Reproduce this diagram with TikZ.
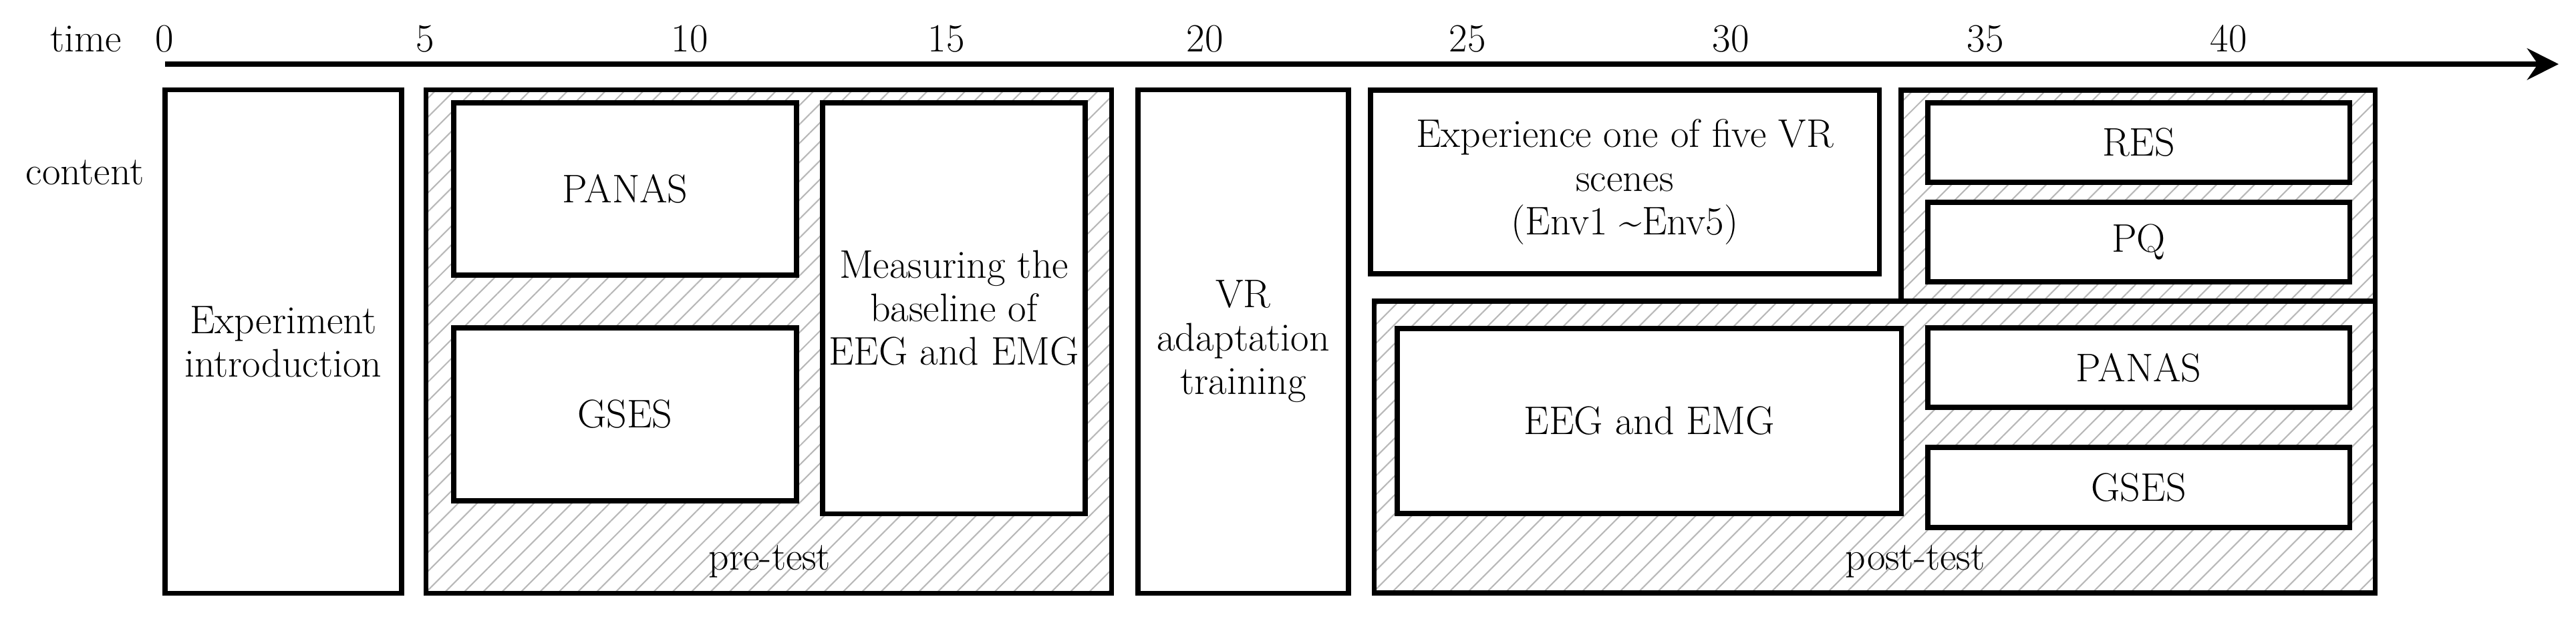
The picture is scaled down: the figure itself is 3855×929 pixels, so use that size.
\documentclass[tikz,border=0pt]{standalone}
\usepackage{fontspec}
\usepackage{tikz}
\usetikzlibrary{arrows.meta, patterns.meta}
\tikzset{
  stage/.style={draw=black,line width=2.1pt,fill=white,align=center,inner sep=0pt,font=\fontsize{17}{18.5}\selectfont},
  phase/.style={stage,pattern={Lines[angle=45,distance=5.7pt,line width=0.6pt]},pattern color=black!28},
  phaselabel/.style={anchor=base,inner sep=0pt,font=\fontsize{17}{18.5}\selectfont},
  ticklabel/.style={anchor=base,inner sep=0pt,font=\fontsize{17}{18.5}\selectfont},
  timeaxis/.style={line width=2.3pt,-{Stealth[length=4.7mm,width=4.7mm,inset=1.6mm]}},
}

\begin{document}
\begin{tikzpicture}[x=0.01cm,y=-0.01cm]
	\useasboundingbox (0,0) rectangle (3855,929);
	% time axis
	\node[ticklabel] (time) at (129,77) {time};
	\node[ticklabel] (content) at (127,276) {content};
	\foreach \t/\x in {0/246,5/636,10/1032,15/1416,20/1803,25/2196,30/2590,35/2971,40/3335}
		\node[ticklabel] (tick\t) at (\x,77) {\t};
	\coordinate (axisstart) at (247,96);
	\coordinate (axisend) at (3829,96);
	\draw[timeaxis] (axisstart) -- (axisend);
	% stages
	\node[stage,minimum width=3.54cm,minimum height=7.53cm] (intro) at (424,511.5) {Experiment\\introduction};
	\node[phase,minimum width=10.25cm,minimum height=7.53cm] (pre) at (1150.5,511.5) {};
	\node[stage,minimum width=5.13cm,minimum height=2.58cm] (prepanas) at (935.5,283) {PANAS};
	\node[stage,minimum width=5.13cm,minimum height=2.59cm] (pregses) at (935.5,620.5) {GSES};
	\node[stage,minimum width=3.93cm,minimum height=6.15cm] (baseline) at (1427.5,461.5) {Measuring the\\baseline of\\EEG and EMG};
	\node[phaselabel] (prelabel) at (1152,853) {pre-test};
	\node[stage,minimum width=3.15cm,minimum height=7.53cm] (vr) at (1860.5,511.5) {VR\\adaptation\\training};
	\node[stage,minimum width=7.61cm,minimum height=2.75cm] (scene) at (2431.5,272.5) {Experience one of five VR\\scenes\\(Env1 \textasciitilde Env5)};
	% post-test
	\node[phase,minimum width=14.97cm,minimum height=4.37cm] (post) at (2805.5,669.5) {};
	\node[phase,minimum width=7.09cm,minimum height=3.16cm] (quest) at (3199.5,293) {};
	\node[stage,minimum width=7.54cm,minimum height=2.77cm] (signal) at (2468,630.5) {EEG and EMG};
	\node[stage,minimum width=6.31cm,minimum height=1.19cm] (res) at (3200.5,213.5) {RES};
	\node[stage,minimum width=6.31cm,minimum height=1.19cm] (pq) at (3200.5,362.5) {PQ};
	\node[stage,minimum width=6.31cm,minimum height=1.19cm] (postpanas) at (3200.5,550.5) {PANAS};
	\node[stage,minimum width=6.31cm,minimum height=1.20cm] (postgses) at (3200.5,730) {GSES};
	\node[phaselabel] (postlabel) at (2866,853) {post-test};
\end{tikzpicture}
\end{document}
